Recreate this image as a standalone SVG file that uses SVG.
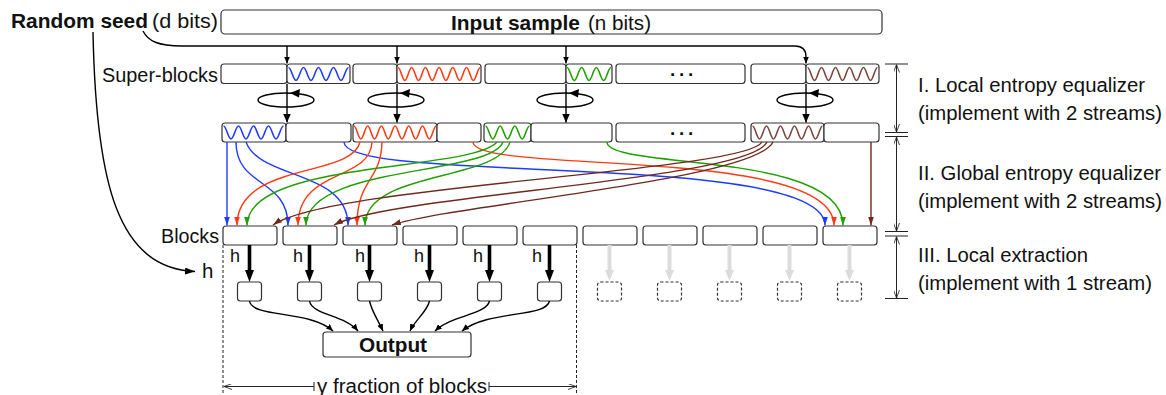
<svg xmlns="http://www.w3.org/2000/svg" width="1166" height="395" viewBox="0 0 1166 395">
<style>
text{font-family:"Liberation Sans",Arial,Helvetica,sans-serif;fill:#111}
.b{font-weight:bold}
.f20{font-size:20.5px}
.f19{font-size:19.5px}
.f17{font-size:18px}
.box{fill:#fff;stroke:#333;stroke-width:1.2}
.dbox{fill:#fff;stroke:#333;stroke-width:1.2;stroke-dasharray:3 2}
.ln{fill:none;stroke:#000;stroke-width:1.4}
.c{fill:none;stroke-width:1.4}
.cb{stroke:#1f3bff}
.cr{stroke:#ff3a12}
.cg{stroke:#1f9f00}
.cn{stroke:#6e2a1f}
.thick{fill:none;stroke:#000;stroke-width:3.6}
.grey{fill:none;stroke:#dcdcdc;stroke-width:4}
.dim{fill:none;stroke:#222;stroke-width:1}
.dash{fill:none;stroke:#222;stroke-width:1;stroke-dasharray:3 2}
.dots{font-size:19px;font-weight:bold;letter-spacing:3.7px}
</style>
<defs>
  <!-- filled arrowheads -->
  <marker id="ah-s" viewBox="0 0 10 10" refX="10" refY="5" markerWidth="7" markerHeight="6" markerUnits="userSpaceOnUse" orient="auto" preserveAspectRatio="none"><path d="M0,0 L10,5 L0,10 z" fill="#000"/></marker>
  <marker id="ah-m" viewBox="0 0 10 10" refX="10" refY="5" markerWidth="9" markerHeight="8" markerUnits="userSpaceOnUse" orient="auto" preserveAspectRatio="none"><path d="M0,0 L10,5 L0,10 z" fill="#000"/></marker>
  <marker id="ah-l" viewBox="0 0 10 10" refX="10" refY="5" markerWidth="10" markerHeight="7" markerUnits="userSpaceOnUse" orient="auto" preserveAspectRatio="none"><path d="M0,0 L10,5 L0,10 z" fill="#000"/></marker>
  <marker id="ah-k" viewBox="0 0 10 10" refX="0" refY="5" markerWidth="12" markerHeight="9" markerUnits="userSpaceOnUse" orient="auto" preserveAspectRatio="none"><path d="M0,0 L10,5 L0,10 z" fill="#000"/></marker>
  <marker id="ah-gy" viewBox="0 0 10 10" refX="0" refY="5" markerWidth="11" markerHeight="9" markerUnits="userSpaceOnUse" orient="auto" preserveAspectRatio="none"><path d="M0,0 L10,5 L0,10 z" fill="#dcdcdc"/></marker>
  <marker id="ah-b" viewBox="0 0 10 10" refX="10" refY="5" markerWidth="9" markerHeight="6" markerUnits="userSpaceOnUse" orient="auto" preserveAspectRatio="none"><path d="M0,0 L10,5 L0,10 z" fill="#1f3bff"/></marker>
  <marker id="ah-r" viewBox="0 0 10 10" refX="10" refY="5" markerWidth="9" markerHeight="6" markerUnits="userSpaceOnUse" orient="auto" preserveAspectRatio="none"><path d="M0,0 L10,5 L0,10 z" fill="#ff3a12"/></marker>
  <marker id="ah-g" viewBox="0 0 10 10" refX="10" refY="5" markerWidth="9" markerHeight="6" markerUnits="userSpaceOnUse" orient="auto" preserveAspectRatio="none"><path d="M0,0 L10,5 L0,10 z" fill="#1f9f00"/></marker>
  <marker id="ah-n" viewBox="0 0 10 10" refX="10" refY="5" markerWidth="9" markerHeight="6" markerUnits="userSpaceOnUse" orient="auto" preserveAspectRatio="none"><path d="M0,0 L10,5 L0,10 z" fill="#6e2a1f"/></marker>
  <!-- open arrowhead for dimension lines -->
  <marker id="ah-o" viewBox="0 0 10 10" refX="10" refY="5" markerWidth="8" markerHeight="6" markerUnits="userSpaceOnUse" orient="auto-start-reverse" preserveAspectRatio="none"><path d="M0,0 L10,5 L0,10" fill="none" stroke="#222" stroke-width="1.2"/></marker>
  <!-- stream waves, drawn from their left end, centred on y=0 -->
  <path id="wv-b" fill="none" stroke="#1f3bff" stroke-width="1.6" d="M0,-6.5 c2.73,0 4.77,13 7.5,13 s4.77,-13 7.5,-13 s4.77,13 7.5,13 s4.77,-13 7.5,-13 s4.77,13 7.5,13 s4.77,-13 7.5,-13 s4.77,13 7.5,13 s4.77,-13 7.5,-13"/>
  <path id="wv-r" fill="none" stroke="#ff3a12" stroke-width="1.6" d="M0,-6.5 c2.49,0 4.36,13 6.85,13 s4.36,-13 6.85,-13 s4.36,13 6.85,13 s4.36,-13 6.85,-13 s4.36,13 6.85,13 s4.36,-13 6.85,-13 s4.36,13 6.85,13 s4.36,-13 6.85,-13 s4.36,13 6.85,13 s4.36,-13 6.85,-13 s4.36,13 6.85,13 s4.36,-13 6.85,-13"/>
  <path id="wv-g" fill="none" stroke="#1f9f00" stroke-width="1.6" d="M0,-6.5 c2.67,0 4.66,13 7.33,13 s4.66,-13 7.33,-13 s4.66,13 7.33,13 s4.66,-13 7.33,-13 s4.66,13 7.33,13 s4.66,-13 7.33,-13"/>
  <path id="wv-n" fill="none" stroke="#7b463d" stroke-width="1.6" d="M0,-6.5 c2.55,0 4.45,13 7,13 s4.45,-13 7,-13 s4.45,13 7,13 s4.45,-13 7,-13 s4.45,13 7,13 s4.45,-13 7,-13 s4.45,13 7,13 s4.45,-13 7,-13 s4.45,13 7,13 s4.45,-13 7,-13"/>
</defs>

<rect width="1166" height="395" fill="#fff"/>

<!-- labels -->
<g id="seed">
  <text class="b f20" x="11" y="27.5" textLength="137" lengthAdjust="spacingAndGlyphs">Random seed</text>
  <text class="f20" x="152" y="27.5" textLength="66" lengthAdjust="spacingAndGlyphs">(d bits)</text>
</g>
<g id="input">
  <rect class="box" x="221" y="10" width="661" height="24" rx="4"/>
  <text class="b f20" x="451" y="30" textLength="129" lengthAdjust="spacingAndGlyphs">Input sample</text>
  <text class="f20" x="588" y="30" textLength="63" lengthAdjust="spacingAndGlyphs">(n bits)</text>
</g>
<text class="f19" x="102" y="82" textLength="116" lengthAdjust="spacingAndGlyphs">Super-blocks</text>
<text class="f19" x="161" y="243" textLength="58" lengthAdjust="spacingAndGlyphs">Blocks</text>
<text class="f20" x="202" y="278">h</text>

<!-- super-blocks before mixing -->
<g id="sb1-in"><rect class="box" x="221" y="64" width="66" height="19.5" rx="3"/><rect class="box" x="287" y="64" width="63" height="19.5" rx="3"/><use href="#wv-b" transform="translate(288.5,74)"/></g>
<g id="sb2-in"><rect class="box" x="353" y="64" width="44" height="19.5" rx="3"/><rect class="box" x="397" y="64" width="84" height="19.5" rx="3"/><use href="#wv-r" transform="translate(398,74)"/></g>
<g id="sb3-in"><rect class="box" x="485" y="64" width="81" height="19.5" rx="3"/><rect class="box" x="566" y="64" width="46" height="19.5" rx="3"/><use href="#wv-g" transform="translate(567,74)"/></g>
<g id="sb4-in"><rect class="box" x="616" y="64" width="129" height="19.5" rx="3"/><text class="dots" x="670" y="75.5">...</text></g>
<g id="sb5-in"><rect class="box" x="751" y="64" width="55" height="19.5" rx="3"/><rect class="box" x="806" y="64" width="73" height="19.5" rx="3"/><use href="#wv-n" transform="translate(807.5,74)"/></g>

<!-- super-blocks after local equalizing -->
<g id="sb1-out"><rect class="box" x="222" y="123" width="64" height="19" rx="3"/><rect class="box" x="286" y="123" width="65" height="19" rx="3"/><use href="#wv-b" transform="translate(223.5,132.5)"/></g>
<g id="sb2-out"><rect class="box" x="353" y="123" width="84" height="19" rx="3"/><rect class="box" x="437" y="123" width="44" height="19" rx="3"/><use href="#wv-r" transform="translate(354,132.5)"/></g>
<g id="sb3-out"><rect class="box" x="484" y="123" width="47" height="19" rx="3"/><rect class="box" x="531" y="123" width="81" height="19" rx="3"/><use href="#wv-g" transform="translate(485.5,132.5)"/></g>
<g id="sb4-out"><rect class="box" x="616" y="123" width="129" height="19" rx="3"/><text class="dots" x="670" y="135">...</text></g>
<g id="sb5-out"><rect class="box" x="751" y="123" width="73" height="19" rx="3"/><rect class="box" x="824" y="123" width="55" height="19" rx="3"/><use href="#wv-n" transform="translate(752.5,132.5)"/></g>

<!-- blocks -->
<g id="blocks">
  <rect class="box" x="223" y="226" width="54" height="19" rx="3"/>
  <rect class="box" x="283" y="226" width="54" height="19" rx="3"/>
  <rect class="box" x="343" y="226" width="54" height="19" rx="3"/>
  <rect class="box" x="403" y="226" width="54" height="19" rx="3"/>
  <rect class="box" x="463" y="226" width="54" height="19" rx="3"/>
  <rect class="box" x="523" y="226" width="54" height="19" rx="3"/>
  <rect class="box" x="583" y="226" width="54" height="19" rx="3"/>
  <rect class="box" x="643" y="226" width="54" height="19" rx="3"/>
  <rect class="box" x="703" y="226" width="54" height="19" rx="3"/>
  <rect class="box" x="763" y="226" width="54" height="19" rx="3"/>
  <rect class="box" x="823" y="226" width="54" height="19" rx="3"/>
</g>

<!-- extracted outputs -->
<g id="extracted">
  <rect class="box" x="237.5" y="282" width="24" height="19" rx="3"/>
  <rect class="box" x="297.5" y="282" width="24" height="19" rx="3"/>
  <rect class="box" x="357.5" y="282" width="24" height="19" rx="3"/>
  <rect class="box" x="417.5" y="282" width="24" height="19" rx="3"/>
  <rect class="box" x="477.5" y="282" width="24" height="19" rx="3"/>
  <rect class="box" x="537.5" y="282" width="24" height="19" rx="3"/>
</g>
<g id="skipped">
  <rect class="dbox" x="597.5" y="282" width="24" height="19" rx="3"/>
  <rect class="dbox" x="657.5" y="282" width="24" height="19" rx="3"/>
  <rect class="dbox" x="717.5" y="282" width="24" height="19" rx="3"/>
  <rect class="dbox" x="777.5" y="282" width="24" height="19" rx="3"/>
  <rect class="dbox" x="837.5" y="282" width="24" height="19" rx="3"/>
</g>
<g id="output">
  <rect class="box" x="323" y="332" width="148" height="25" rx="3"/>
  <text class="b f20" x="359" y="352" textLength="68" lengthAdjust="spacingAndGlyphs">Output</text>
</g>

<!-- connectors -->
<g id="connectors">
  <!-- seed distribution -->
  <path class="ln" d="M143,31 C148,41 158,46 182,46 L795,46 Q806,46 806,57 L806,63.5" marker-end="url(#ah-s)"/>
  <path class="ln" d="M287,46 V63.5" marker-end="url(#ah-s)"/>
  <path class="ln" d="M397,46 V63.5" marker-end="url(#ah-s)"/>
  <path class="ln" d="M566,46 V63.5" marker-end="url(#ah-s)"/>
  <path class="ln" d="M93,32 C96,185 118,268 195,271.5" marker-end="url(#ah-l)"/>

  <!-- local rotations -->
  <g class="ln" stroke-width="1.5">
    <ellipse cx="286" cy="100" rx="28" ry="7"/>
    <ellipse cx="396" cy="100" rx="28" ry="7"/>
    <ellipse cx="565" cy="100" rx="28" ry="7"/>
    <ellipse cx="805" cy="100" rx="28" ry="7"/>
  </g>
  <path d="M290,93 L300,89 L299,97.5 z M400,93 L410,89 L409,97.5 z M569,93 L579,89 L578,97.5 z M809,93 L819,89 L818,97.5 z" fill="#000"/>
  <path class="ln" d="M287,84 V122.5" marker-end="url(#ah-m)"/>
  <path class="ln" d="M397,84 V122.5" marker-end="url(#ah-m)"/>
  <path class="ln" d="M566,84 V122.5" marker-end="url(#ah-m)"/>
  <path class="ln" d="M806,84 V122.5" marker-end="url(#ah-m)"/>

  <!-- global mixing -->
  <g class="c cb">
    <path d="M227,142 V225.5" marker-end="url(#ah-b)"/>
    <path d="M236,142 C236,188 288,178 288,225.5" marker-end="url(#ah-b)"/>
    <path d="M246,142 C260,180 348,170 348,225.5" marker-end="url(#ah-b)"/>
    <path d="M344,142 C344,185 825,150 825,225.5" marker-end="url(#ah-b)"/>
  </g>
  <g class="c cr">
    <path d="M360,142 C352,178 237,162 237,225.5" marker-end="url(#ah-r)"/>
    <path d="M372,142 C370,182 298,168 298,225.5" marker-end="url(#ah-r)"/>
    <path d="M382,142 C381,182 357,178 357,225.5" marker-end="url(#ah-r)"/>
    <path d="M473,142 C473,175 834,145 834,225.5" marker-end="url(#ah-r)"/>
  </g>
  <g class="c cg">
    <path d="M497,142 C470,172 247,160 247,225.5" marker-end="url(#ah-g)"/>
    <path d="M503,142 C490,176 306,165 306,225.5" marker-end="url(#ah-g)"/>
    <path d="M510,142 C498,182 365,170 365,225.5" marker-end="url(#ah-g)"/>
    <path d="M607,142 C607,170 843,150 843,225.5" marker-end="url(#ah-g)"/>
  </g>
  <g class="c cn">
    <path d="M762,142 C745,172 330,185 273,225" marker-end="url(#ah-n)"/>
    <path d="M767,142 C750,180 390,195 334,225" marker-end="url(#ah-n)"/>
    <path d="M773,142 C755,180 450,205 392,225" marker-end="url(#ah-n)"/>
    <path d="M871,142 V225.5" marker-end="url(#ah-n)"/>
  </g>

  <!-- extraction -->
  <g class="thick">
    <path d="M249.5,245 V270" marker-end="url(#ah-k)"/>
    <path d="M309.5,245 V270" marker-end="url(#ah-k)"/>
    <path d="M369.5,245 V270" marker-end="url(#ah-k)"/>
    <path d="M429.5,245 V270" marker-end="url(#ah-k)"/>
    <path d="M489.5,245 V270" marker-end="url(#ah-k)"/>
    <path d="M549.5,245 V270" marker-end="url(#ah-k)"/>
  </g>
  <g class="grey">
    <path d="M609.5,245 V270" marker-end="url(#ah-gy)"/>
    <path d="M669.5,245 V270" marker-end="url(#ah-gy)"/>
    <path d="M729.5,245 V270" marker-end="url(#ah-gy)"/>
    <path d="M789.5,245 V270" marker-end="url(#ah-gy)"/>
    <path d="M849.5,245 V270" marker-end="url(#ah-gy)"/>
  </g>
  <g class="f17">
    <text x="230" y="261.5">h</text>
    <text x="293" y="261.5">h</text>
    <text x="355" y="261.5">h</text>
    <text x="414" y="261.5">h</text>
    <text x="473" y="261.5">h</text>
    <text x="532" y="261.5">h</text>
  </g>

  <!-- gathering into the output -->
  <g class="ln" stroke-width="1.3">
    <path d="M249.5,301 C252,318 310,310 333,331" marker-end="url(#ah-s)"/>
    <path d="M309.5,301 C312,315 345,315 358,331" marker-end="url(#ah-s)"/>
    <path d="M369.5,301 C372,312 378,320 383,331" marker-end="url(#ah-s)"/>
    <path d="M429.5,301 C427,312 415,320 410,331" marker-end="url(#ah-s)"/>
    <path d="M489.5,301 C486,315 452,315 435,331" marker-end="url(#ah-s)"/>
    <path d="M549.5,301 C546,318 488,310 462,331" marker-end="url(#ah-s)"/>
  </g>
</g>

<!-- gamma span -->
<g id="gamma-span">
  <path class="dash" d="M223,245 V395 M576.5,245 V395"/>
  <path class="dim" d="M314,386.5 H224" marker-end="url(#ah-o)"/>
  <path class="dim" d="M489,386.5 H576" marker-end="url(#ah-o)"/>
  <path class="dim" d="M314,382 V391 M489,382 V391"/>
  <text class="f19" x="317" y="392.5" textLength="170" lengthAdjust="spacingAndGlyphs">γ fraction of blocks</text>
</g>

<!-- stage scale -->
<g id="stages">
  <path class="dim" d="M885,64 H908 M885,132.5 H908 M885,136.5 H908 M885,231.5 H908 M885,236 H908 M885,298.5 H908"/>
  <path class="dim" d="M896.5,64.5 V132" marker-start="url(#ah-o)" marker-end="url(#ah-o)"/>
  <path class="dim" d="M896.5,137 V231" marker-start="url(#ah-o)" marker-end="url(#ah-o)"/>
  <path class="dim" d="M896.5,236.5 V298" marker-start="url(#ah-o)" marker-end="url(#ah-o)"/>
  <text class="f19" x="918" y="92" textLength="227" lengthAdjust="spacingAndGlyphs">I. Local entropy equalizer</text>
  <text class="f19" x="918" y="120" textLength="244" lengthAdjust="spacingAndGlyphs">(implement with 2 streams)</text>
  <text class="f19" x="918" y="180" textLength="243" lengthAdjust="spacingAndGlyphs">II. Global entropy equalizer</text>
  <text class="f19" x="918" y="208" textLength="244" lengthAdjust="spacingAndGlyphs">(implement with 2 streams)</text>
  <text class="f19" x="918" y="262" textLength="170" lengthAdjust="spacingAndGlyphs">III. Local extraction</text>
  <text class="f19" x="918" y="290" textLength="234" lengthAdjust="spacingAndGlyphs">(implement with 1 stream)</text>
</g>
</svg>
